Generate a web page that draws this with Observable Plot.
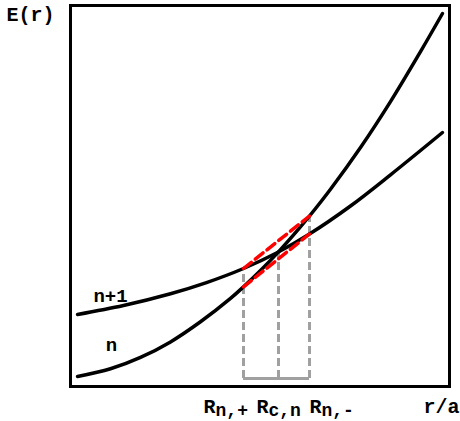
<!DOCTYPE html>
<html><head><meta charset="utf-8">
<script src="https://cdn.jsdelivr.net/npm/d3@7"></script>
<script src="https://cdn.jsdelivr.net/npm/@observablehq/plot@0.6"></script>
<style>body{margin:0;background:#fff}</style>
</head><body><div id="chart"></div>
<script>
// Curve n (steeper)
const rN  = [0.185, 1.055, 1.847, 2.639, 3.430, 4.222, 4.565, 5.013, 5.488, 5.937, 6.306, 6.860, 7.652, 8.443, 9.235, 9.815];
const eN  = [0.262, 0.465, 0.764, 1.171, 1.699, 2.312, 2.617, 3.045, 3.535, 4.037, 4.475, 5.178, 6.273, 7.478, 8.790, 9.790];
// Curve n+1 (flatter)
const rN1 = [0.185, 1.398, 2.639, 3.588, 4.565, 5.435, 6.306, 7.388, 8.443, 9.815];
const eN1 = [1.890, 2.126, 2.434, 2.727, 3.097, 3.504, 4.003, 4.738, 5.556, 6.667];
// Critical radii markers
const markNames = ["R_{n,+}", "R_{c,n}", "R_{n,-}"];
const markR     = [4.565, 5.488, 6.306];
const markTopE  = [3.097, 3.535, 4.475];
const markBaseE = 0.21;
// Red dashed chords
const chordUpperR = [4.565, 6.306];
const chordUpperE = [3.097, 4.475];
const chordLowerR = [4.565, 6.306];
const chordLowerE = [2.617, 4.003];
// Curve labels
const curveNames  = ["n+1", "n"];
const curveLabelR = [1.055, 1.08];
const curveLabelE = [2.205, 0.92];

const nData  = rN.map((r, i) => ({r, e: eN[i]}));
const n1Data = rN1.map((r, i) => ({r, e: eN1[i]}));
const marks = markR.map((r, i) => ({r, top: markTopE[i], name: markNames[i]}));
const upper = chordUpperR.map((r, i) => ({r, e: chordUpperE[i]}));
const lower = chordLowerR.map((r, i) => ({r, e: chordLowerE[i]}));
const cl = curveNames.map((name, i) => ({name, r: curveLabelR[i], e: curveLabelE[i]}));

const font = "Liberation Mono";
const labelDx = [-40, -22, 0];
const txt = {fontFamily: font, fontWeight: "bold", fill: "black"};

const chart = Plot.plot({
  width: 460, height: 421,
  marginLeft: 70, marginRight: 11, marginTop: 5, marginBottom: 35,
  x: {domain: [0, 10], axis: null},
  y: {domain: [0, 10], axis: null},
  style: {background: "#fff"},
  marks: [
    Plot.ruleX(marks, {x: "r", y1: markBaseE, y2: "top", stroke: "#a0a0a0", strokeWidth: 3, strokeDasharray: "8,4"}),
    Plot.ruleY([markBaseE], {x1: markR[0], x2: markR[2], stroke: "#a0a0a0", strokeWidth: 3}),
    Plot.line(n1Data, {x: "r", y: "e", curve: "catmull-rom", stroke: "black", strokeWidth: 3.5, strokeLinecap: "round"}),
    Plot.line(nData, {x: "r", y: "e", curve: "catmull-rom", stroke: "black", strokeWidth: 3.5, strokeLinecap: "round"}),
    Plot.line(upper, {x: "r", y: "e", stroke: "red", strokeWidth: 3.5, strokeDasharray: "10,5"}),
    Plot.line(lower, {x: "r", y: "e", stroke: "red", strokeWidth: 3.5, strokeDasharray: "10,5"}),
    Plot.frame({stroke: "black", strokeWidth: 3}),
    Plot.text(cl, {x: "r", y: "e", text: "name", fontSize: 19, lineAnchor: "bottom", ...txt}),
    ...marks.map((m, i) => Plot.text([m], {x: "r", frameAnchor: "bottom", text: "name", textAnchor: "start", lineAnchor: "bottom", dx: labelDx[i], dy: 26, fontSize: 20, ...txt})),
    Plot.text(["E(r)"], {frameAnchor: "top-left", textAnchor: "start", lineAnchor: "bottom", dx: -64, dy: 15, fontSize: 20, ...txt}),
    Plot.text(["r/a"], {frameAnchor: "bottom-right", textAnchor: "end", lineAnchor: "bottom", dx: 10, dy: 26, fontSize: 20, ...txt})
  ]
});
document.getElementById("chart").appendChild(chart);
d3.select(chart).selectAll("text").each(function() {
  const t = this.textContent;
  const m = t.match(/^(.*)_\{(.*)\}$/);
  if (m) {
    const sel = d3.select(this);
    sel.text(null);
    sel.append("tspan").text(m[1]);
    sel.append("tspan").attr("font-size", 18).attr("dy", 3).text(m[2]);
  }
});
</script>
</body></html>
